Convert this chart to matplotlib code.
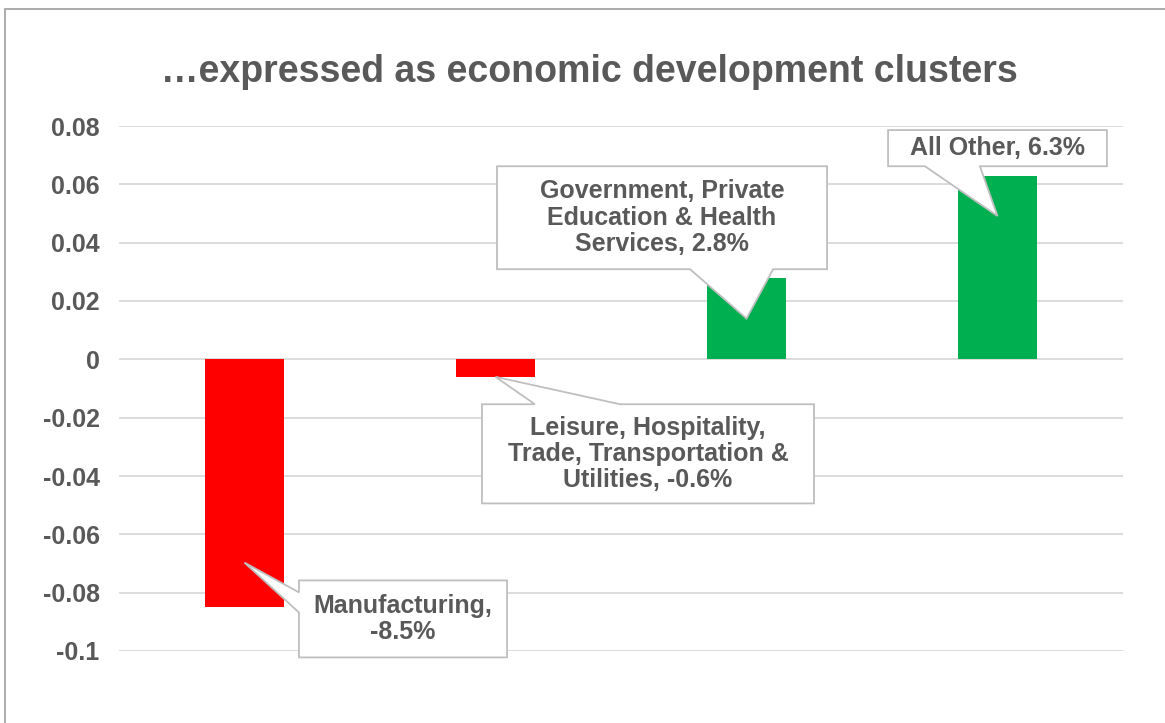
import matplotlib
matplotlib.use('Agg')
import matplotlib.pyplot as plt
import numpy as np
from matplotlib.patches import Polygon, Rectangle

plt.rcParams['font.family'] = ['Liberation Sans', 'DejaVu Sans']
plt.rcParams['font.weight'] = 'bold'

clusters = ['Manufacturing',
            'Leisure, Hospitality,\nTrade, Transportation &\nUtilities',
            'Government, Private\nEducation & Health\nServices',
            'All Other']
growth = [-0.085, -0.006, 0.028, 0.063]
yticks = [0.08, 0.06, 0.04, 0.02, 0, -0.02, -0.04, -0.06, -0.08, -0.1]
ytick_labels = ['0.08', '0.06', '0.04', '0.02', '0', '-0.02', '-0.04', '-0.06', '-0.08', '-0.1']

grey = '#595959'
red = '#FF0000'
green = '#00B050'

# callout layout: box (x0, x1, y0, y1), side the pointer leaves from,
# pointer base along that side, pointer tip as a fraction of the bar
callouts = [
    dict(box=(0.217, 1.046, -0.1022, -0.0758), side='left', base=(-0.0868, -0.0799), frac=0.82),
    dict(box=(0.946, 2.269, -0.0494, -0.0154), side='top', base=(1.157, 1.496), frac=1.0),
    dict(box=(1.006, 2.321, 0.0309, 0.0662), side='bottom', base=(1.775, 2.106), frac=0.5),
    dict(box=(2.564, 3.436, 0.0662, 0.0786), side='bottom', base=(2.711, 2.930), frac=0.78),
]


def callout_path(box, side, base, tip):
    x0, x1, y0, y1 = box
    a, b = base
    pts = [(x0, y1)]
    if side == 'top':
        pts += [(a, y1), tip, (b, y1)]
    pts.append((x1, y1))
    if side == 'right':
        pts += [(x1, b), tip, (x1, a)]
    pts.append((x1, y0))
    if side == 'bottom':
        pts += [(b, y0), tip, (a, y0)]
    pts.append((x0, y0))
    if side == 'left':
        pts += [(x0, a), tip, (x0, b)]
    return pts


fig = plt.figure(figsize=(11.65, 7.23), dpi=100)
ax = fig.add_axes([119 / 1165, 72 / 723, 1004 / 1165, 525 / 723])

x = np.arange(len(growth))
colors = [red if v < 0 else green for v in growth]
ax.bar(x, growth, width=0.315, color=colors, zorder=2)

ax.set_xlim(-0.5, len(growth) - 0.5)
ax.set_ylim(-0.1, 0.08)
ax.set_yticks(yticks)
ax.set_yticklabels(ytick_labels)
ax.set_xticks([])
ax.tick_params(axis='y', length=0, pad=14, labelsize=18, labelcolor=grey)
ax.grid(axis='y', color='#D9D9D9', linewidth=1.3, zorder=0)
ax.set_axisbelow(True)
for s in ax.spines.values():
    s.set_visible(False)

for i, c in enumerate(callouts):
    tip = (x[i], growth[i] * c['frac'])
    pts = callout_path(c['box'], c['side'], c['base'], tip)
    ax.add_patch(Polygon(pts, closed=True, fc='white', ec='#BFBFBF',
                         lw=1.3, zorder=3, clip_on=False))
    x0, x1, y0, y1 = c['box']
    label = '%s, %.1f%%' % (clusters[i], growth[i] * 100)
    if i == 0:
        label = '%s,\n%.1f%%' % (clusters[i], growth[i] * 100)
    ax.text((x0 + x1) / 2, (y0 + y1) / 2, label, ha='center', va='center',
            multialignment='center', fontsize=18, color=grey,
            linespacing=1.12, zorder=4, clip_on=False)

fig.text(0.506, 1 - 82 / 723, '\u2026expressed as economic development clusters',
         ha='center', va='baseline', fontsize=27, color=grey)

# chart frame
fig.patches.append(Rectangle((5 / 1165, -0.05), 1.1, 1 - 9 / 723 + 0.05,
                             transform=fig.transFigure, fill=False,
                             ec='#A6A6A6', lw=1.3))

fig.savefig('out.png', dpi=100)
